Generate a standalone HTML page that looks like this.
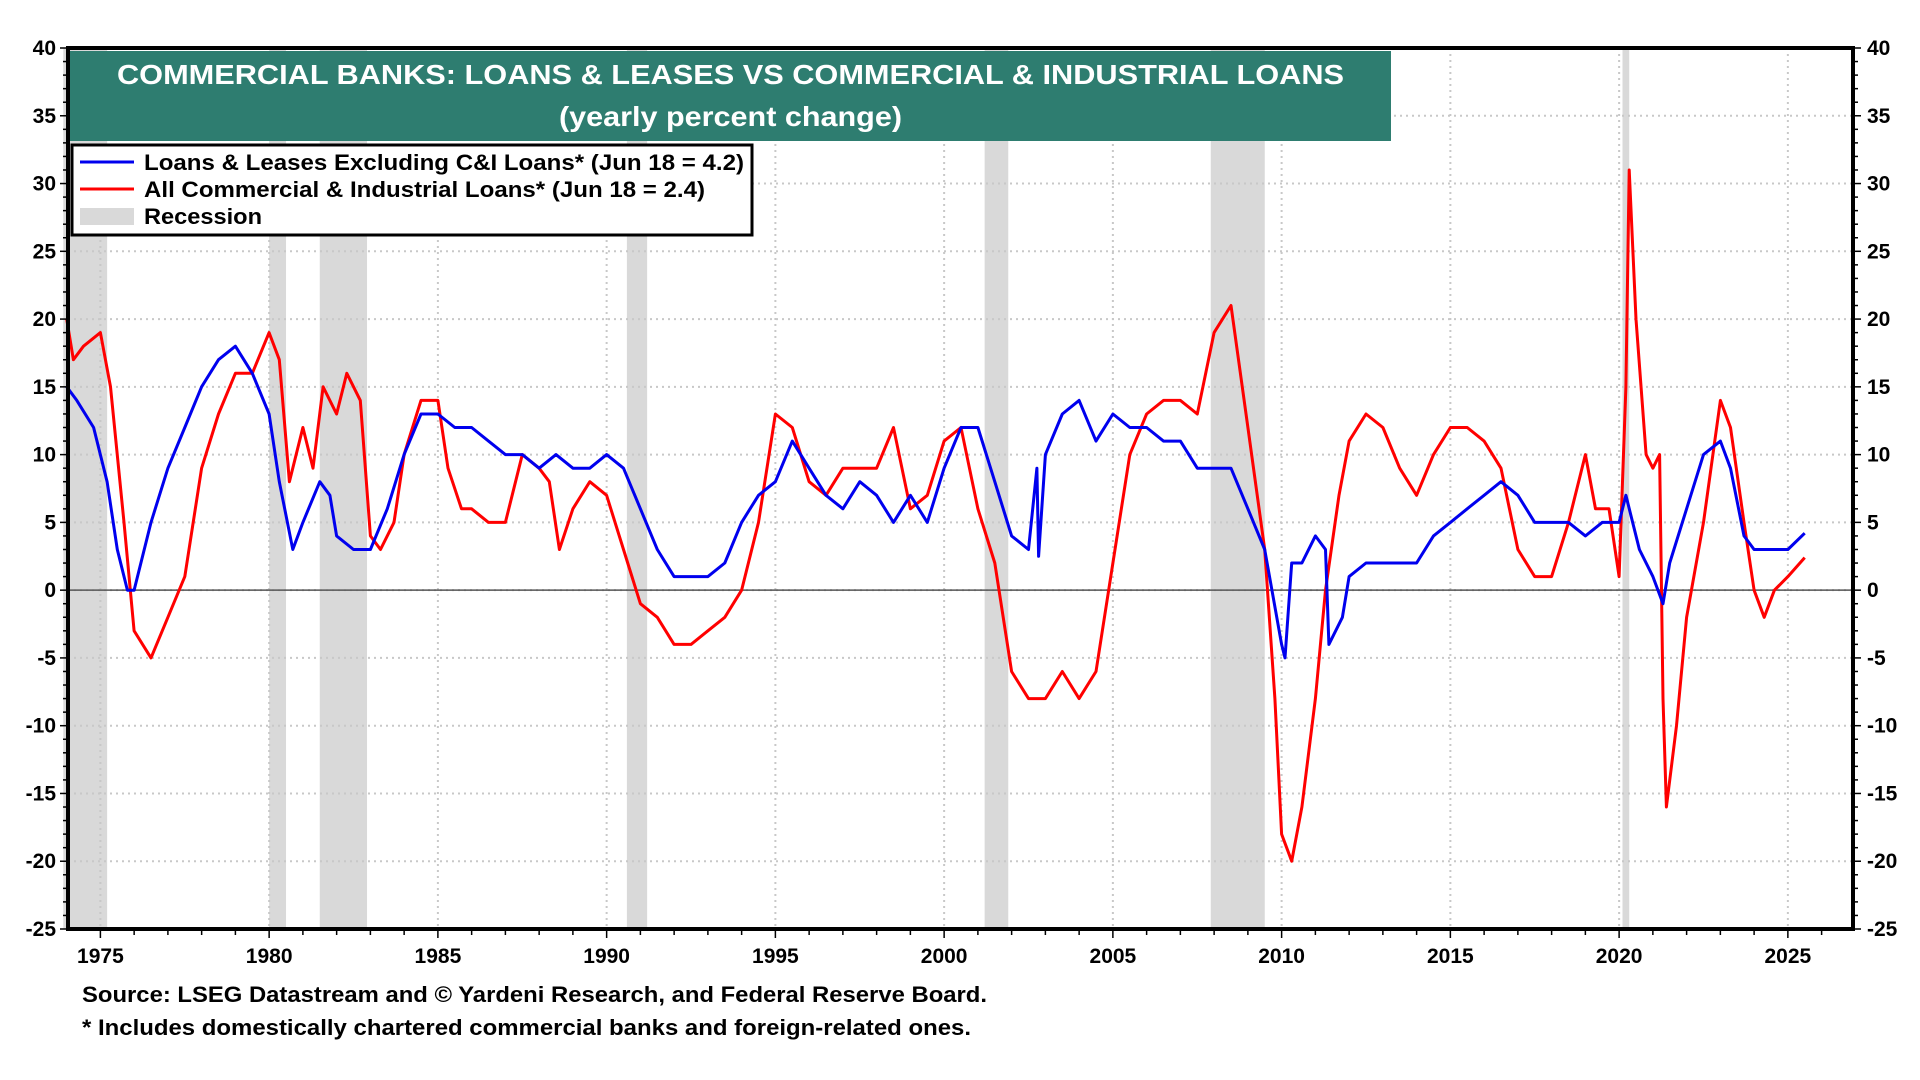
<!DOCTYPE html>
<html><head><meta charset="utf-8"><style>
html,body{margin:0;padding:0;background:#fff;width:1920px;height:1080px;overflow:hidden;font-family:"Liberation Sans",Arial,sans-serif;}
</style></head><body>
<svg id="chart" width="1920" height="1080" xmlns="http://www.w3.org/2000/svg" font-family="Liberation Sans, Arial, sans-serif"></svg>
<script>
const recStart=[1973.9,1980.0,1981.5,1990.6,2001.2,2007.9,2020.1];
const recEnd=[1975.2,1980.5,1982.9,1991.2,2001.9,2009.5,2020.3];
const yTicks=[-25,-20,-15,-10,-5,0,5,10,15,20,25,30,35,40];
const xTicks=[1975,1980,1985,1990,1995,2000,2005,2010,2015,2020,2025];
const blueYears=[1974,1974.3,1974.8,1975.2,1975.5,1975.8,1976,1976.5,1977,1977.5,1978,1978.5,1979,1979.5,1980,1980.3,1980.7,1981,1981.5,1981.8,1982,1982.5,1983,1983.5,1984,1984.5,1985,1985.5,1986,1986.5,1987,1987.5,1988,1988.5,1989,1989.5,1990,1990.5,1991,1991.5,1992,1992.5,1993,1993.5,1994,1994.5,1995,1995.5,1996,1996.5,1997,1997.5,1998,1998.5,1999,1999.5,2000,2000.5,2001,2001.5,2002,2002.5,2002.75,2002.8,2003,2003.5,2004,2004.5,2005,2005.5,2006,2006.5,2007,2007.5,2008,2008.5,2009,2009.5,2010,2010.1,2010.3,2010.6,2011,2011.3,2011.4,2011.8,2012,2012.5,2013,2013.5,2014,2014.5,2015,2015.5,2016,2016.5,2017,2017.5,2018,2018.5,2019,2019.5,2020,2020.2,2020.6,2021,2021.3,2021.5,2022,2022.5,2023,2023.3,2023.7,2024,2024.5,2025,2025.5];
const blueVals=[15,14,12,8,3,0,0,5,9,12,15,17,18,16,13,8,3,5,8,7,4,3,3,6,10,13,13,12,12,11,10,10,9,10,9,9,10,9,6,3,1,1,1,2,5,7,8,11,9,7,6,8,7,5,7,5,9,12,12,8,4,3,9,2.5,10,13,14,11,13,12,12,11,11,9,9,9,6,3,-4,-5,2,2,4,3,-4,-2,1,2,2,2,2,4,5,6,7,8,7,5,5,5,4,5,5,7,3,1,-1,2,6,10,11,9,4,3,3,3,4.2];
const redYears=[1974,1974.2,1974.5,1975,1975.3,1975.7,1976,1976.5,1977,1977.5,1978,1978.5,1979,1979.5,1980,1980.3,1980.6,1981,1981.3,1981.6,1982,1982.3,1982.7,1983,1983.3,1983.7,1984,1984.5,1985,1985.3,1985.7,1986,1986.5,1987,1987.5,1988,1988.3,1988.6,1989,1989.5,1990,1990.5,1991,1991.5,1992,1992.5,1993,1993.5,1994,1994.5,1995,1995.5,1996,1996.5,1997,1997.5,1998,1998.5,1999,1999.5,2000,2000.5,2001,2001.5,2002,2002.5,2003,2003.5,2004,2004.5,2005,2005.5,2006,2006.5,2007,2007.5,2008,2008.5,2009,2009.5,2009.8,2010,2010.3,2010.6,2011,2011.3,2011.7,2012,2012.5,2013,2013.5,2014,2014.5,2015,2015.5,2016,2016.5,2017,2017.5,2018,2018.5,2019,2019.3,2019.7,2020,2020.2,2020.3,2020.5,2020.8,2021,2021.2,2021.3,2021.4,2021.7,2022,2022.5,2023,2023.3,2023.7,2024,2024.3,2024.6,2025,2025.5];
const redVals=[20,17,18,19,15,5,-3,-5,-2,1,9,13,16,16,19,17,8,12,9,15,13,16,14,4,3,5,10,14,14,9,6,6,5,5,10,9,8,3,6,8,7,3,-1,-2,-4,-4,-3,-2,0,5,13,12,8,7,9,9,9,12,6,7,11,12,6,2,-6,-8,-8,-6,-8,-6,2,10,13,14,14,13,19,21,12,3,-8,-18,-20,-16,-8,0,7,11,13,12,9,7,10,12,12,11,9,3,1,1,5,10,6,6,1,15,31,20,10,9,10,-8,-16,-10,-2,5,14,12,5,0,-2,0,1,2.4];

const NS='http://www.w3.org/2000/svg';
const svg=document.getElementById('chart');
const L=68,R=1853,T=48,B=929;
const X0=1974.04,X1=2026.93;
function xs(v){return L+(v-X0)/(X1-X0)*(R-L);}
function ys(v){return T+(40-v)/65*(B-T);}
function el(tag,attrs,parent){const e=document.createElementNS(NS,tag);for(const k in attrs)e.setAttribute(k,attrs[k]);(parent||svg).appendChild(e);return e;}

for(let i=0;i<recStart.length;i++){
  const r=el('rect',{x:xs(recStart[i]),y:T,width:xs(recEnd[i])-xs(recStart[i]),height:B-T,fill:'#d9d9d9'});
  
  
}
yTicks.forEach(v=>{if(v>-25&&v<40){const g=el('line',{x1:L,x2:R,y1:ys(v),y2:ys(v),stroke:'#c8c8c8','stroke-width':2,'stroke-dasharray':'2,4'});

}});
xTicks.forEach(v=>{const g=el('line',{x1:xs(v),x2:xs(v),y1:T,y2:B,stroke:'#c8c8c8','stroke-width':2,'stroke-dasharray':'2,4'});

});
const z=el('line',{x1:L,x2:R,y1:ys(0),y2:ys(0),stroke:'#555','stroke-width':1.5});


function series(years,vals,color,name){
  let d='';years.forEach((y,i)=>{d+=(i?'L':'M')+xs(y).toFixed(1)+','+ys(vals[i]).toFixed(1);});
  const p=el('path',{d:d,fill:'none',stroke:color,'stroke-width':3,'stroke-linejoin':'round'});
  
  
}
series(redYears,redVals,'#ff0000','series-ci-loans-line');
series(blueYears,blueVals,'#0000ee','series-loans-ex-ci-line');
const fr=el('rect',{x:L,y:T,width:R-L,height:B-T,fill:'none',stroke:'#000','stroke-width':4});


for(let v=-25;v<=40;v++){
  const major=v%5===0;
  el('line',{x1:L-(major?8:5),x2:L,y1:ys(v),y2:ys(v),stroke:'#000','stroke-width':1.5});
  el('line',{x1:R,x2:R+(major?8:5),y1:ys(v),y2:ys(v),stroke:'#000','stroke-width':1.5});
}
yTicks.forEach(v=>{
  const t1=el('text',{x:L-12,y:ys(v)+7,'text-anchor':'end','font-size':21,'font-weight':'bold'});t1.textContent=v;
  
  
  const t2=el('text',{x:R+14,y:ys(v)+7,'text-anchor':'start','font-size':21,'font-weight':'bold'});t2.textContent=v;
  
  
});
for(let yr=1975;yr<=2026;yr++){el('line',{x1:xs(yr),x2:xs(yr),y1:B,y2:B+(yr%5===0?9:6),stroke:'#000','stroke-width':1.5});}
xTicks.forEach(v=>{const t=el('text',{x:xs(v),y:963,'text-anchor':'middle','font-size':21,'font-weight':'bold'});t.textContent=v;

});
const tb=el('rect',{x:70,y:51,width:1321,height:90,fill:'#2e7d70'});


const t1=el('text',{x:117,y:84,'font-size':28,'font-weight':'bold',fill:'#fff',textLength:1227,lengthAdjust:'spacingAndGlyphs'});t1.textContent='COMMERCIAL BANKS: LOANS & LEASES VS COMMERCIAL & INDUSTRIAL LOANS';


const t2=el('text',{x:559,y:126,'font-size':28,'font-weight':'bold',fill:'#fff',textLength:343,lengthAdjust:'spacingAndGlyphs'});t2.textContent='(yearly percent change)';


const lg=el('rect',{x:72,y:145,width:680,height:90,fill:'#fff',stroke:'#000','stroke-width':3});


const items=[['line','#0000ee','Loans & Leases Excluding C&I Loans* (Jun 18 = 4.2)',600],['line','#ff0000','All Commercial & Industrial Loans* (Jun 18 = 2.4)',561],['box','#d9d9d9','Recession',118]];
items.forEach((it,i)=>{
  const cy=162+i*27;
  if(it[0]==='line')el('line',{x1:80,x2:134,y1:cy,y2:cy,stroke:it[1],'stroke-width':3});
  else el('rect',{x:80,y:cy-8,width:54,height:17,fill:it[1]});
  const t=el('text',{x:144,y:cy+8,'font-size':22,'font-weight':'bold',textLength:it[3],lengthAdjust:'spacingAndGlyphs'});t.textContent=it[2];
  
  
});
const s1=el('text',{x:82,y:1002,'font-size':22,'font-weight':'bold',textLength:905,lengthAdjust:'spacingAndGlyphs'});s1.textContent='Source: LSEG Datastream and \u00a9 Yardeni Research, and Federal Reserve Board.';


const s2=el('text',{x:82,y:1035,'font-size':22,'font-weight':'bold',textLength:889,lengthAdjust:'spacingAndGlyphs'});s2.textContent='* Includes domestically chartered commercial banks and foreign-related ones.';


</script>
</body></html>
